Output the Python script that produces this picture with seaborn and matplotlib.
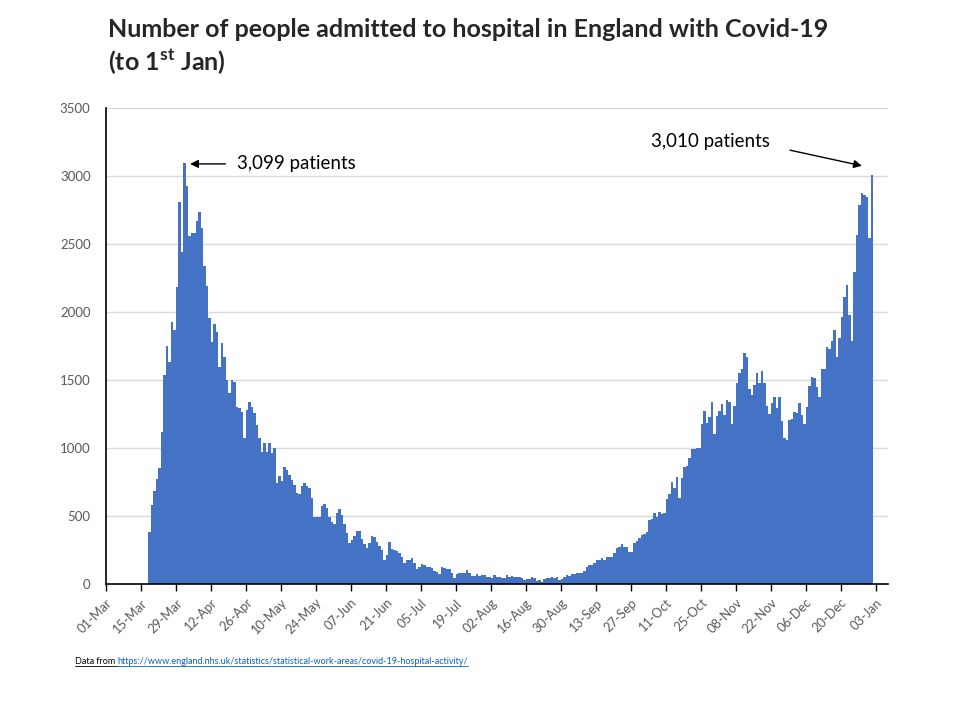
import matplotlib.pyplot as plt
from matplotlib.lines import Line2D
import pandas as pd
import seaborn as sns

# daily admissions in England, 18 Mar 2020 to 1 Jan 2021
START = "2020-03-18"
admissions = [
    385, 580, 686, 772, 850, 1120, 1537, 1752, 1635, 1930, 1870, 2186, 2811, 2444, 3099,
    2926, 2559, 2583, 2583, 2671, 2738, 2615, 2338, 2191, 1953, 1782, 1912, 1855, 1598, 1770,
    1666, 1500, 1402, 1500, 1488, 1304, 1291, 1267, 1071, 1279, 1336, 1299, 1255, 1169, 1071,
    973, 1034, 973, 1034, 961, 998, 740, 794, 757, 863, 838, 801, 765, 728, 672,
    662, 721, 745, 721, 703, 630, 495, 495, 495, 574, 588, 556, 495, 458, 441,
    520, 549, 507, 441, 373, 304, 324, 353, 392, 392, 328, 294, 262, 304, 353,
    343, 311, 279, 250, 176, 213, 311, 255, 250, 245, 230, 201, 157, 176, 176,
    189, 152, 108, 127, 147, 140, 127, 127, 115, 98, 91, 74, 127, 115, 108,
    108, 78, 42, 71, 78, 78, 78, 103, 78, 59, 59, 74, 59, 66, 66,
    49, 49, 42, 66, 54, 54, 47, 47, 66, 49, 59, 49, 54, 54, 42,
    29, 34, 34, 49, 42, 25, 29, 17, 34, 42, 42, 54, 42, 49, 29,
    34, 49, 66, 59, 74, 74, 83, 83, 83, 98, 127, 140, 140, 157, 176,
    176, 189, 176, 196, 201, 201, 230, 262, 270, 294, 274, 274, 238, 238, 304,
    319, 336, 360, 368, 385, 471, 475, 520, 490, 532, 512, 525, 623, 662, 752,
    703, 784, 630, 782, 863, 868, 924, 990, 990, 998, 998, 1177, 1275, 1181, 1230,
    1341, 1103, 1238, 1275, 1324, 1243, 1353, 1341, 1177, 1309, 1480, 1554, 1578, 1701, 1667,
    1436, 1390, 1463, 1549, 1480, 1569, 1480, 1309, 1250, 1333, 1377, 1294, 1377, 1200, 1070,
    1060, 1206, 1211, 1267, 1260, 1333, 1243, 1176, 1304, 1456, 1525, 1517, 1451, 1378, 1578,
    1578, 1740, 1726, 1789, 1868, 1672, 1806, 1966, 2113, 2199, 1978, 1789, 2297, 2566, 2787,
    2877, 2860, 2848, 2542, 3010,
]

tick_dates = pd.date_range("2020-03-01", "2021-01-03", freq="14D")
y_ticks = [0, 500, 1000, 1500, 2000, 2500, 3000, 3500]

peak_first = ("2020-04-01", 3099, "3,099 patients")
peak_second = ("2021-01-01", 3010, "3,010 patients")

TITLE = "Number of people admitted to hospital in England with Covid-19"
SUBTITLE = r"(to 1$^{\mathbf{st}}$ Jan)"
SOURCE_URL = "https://www.england.nhs.uk/statistics/statistical-work-areas/covid-19-hospital-activity/"

BLUE = "#4472C4"
GREY = "#595959"

origin = pd.Timestamp("2020-03-01")
dates = pd.date_range(START, periods=len(admissions), freq="D")
df = pd.DataFrame({"day": (dates - origin).days + 0.5, "patients": admissions})

sns.set_theme(style="white")
plt.rcParams["font.family"] = ["Lato", "DejaVu Sans"]
plt.rcParams["mathtext.fontset"] = "custom"
plt.rcParams["mathtext.bf"] = "Lato:bold"

fig = plt.figure(figsize=(9.54, 7.05), dpi=100)
ax = fig.add_axes([0.111, 0.1716, 0.82, 0.6752])

sns.barplot(data=df, x="day", y="patients", native_scale=True, width=1,
            color=BLUE, saturation=1, linewidth=0, errorbar=None, ax=ax)
for bar in ax.patches:
    bar.set_antialiased(False)

ax.set_xlim(0, 313)
ax.set_ylim(0, 3500)
ax.set_xticks([(d - origin).days for d in tick_dates])
ax.set_xticklabels(tick_dates.strftime("%d-%b"), rotation=45, ha="right",
                   rotation_mode="anchor", color=GREY, fontsize=9.3)
ax.set_yticks(y_ticks)
ax.set_yticklabels([str(v) for v in y_ticks], color=GREY, fontsize=9.5)
ax.tick_params(axis="x", direction="out", length=5, width=1, color="black", pad=4,
               bottom=True)
ax.tick_params(axis="y", length=0, pad=11)
ax.set_xlabel("")
ax.set_ylabel("")
ax.yaxis.grid(True, color="#D9D9D9", linewidth=1)
ax.set_axisbelow(True)
for side in ["top", "right"]:
    ax.spines[side].set_visible(False)
for side in ["left", "bottom"]:
    ax.spines[side].set_color("black")
    ax.spines[side].set_linewidth(1.2)

# annotations
d1 = (pd.Timestamp(peak_first[0]) - origin).days
ax.annotate(peak_first[2], xy=(d1 + 2.7, peak_first[1] - 10),
            xytext=(d1 + 21.5, peak_first[1] - 10), va="center", ha="left",
            fontsize=13.5, color="black",
            arrowprops=dict(arrowstyle="-|>", color="black", lw=1,
                            shrinkA=6, shrinkB=0, mutation_scale=12))
d2 = (pd.Timestamp(peak_second[0]) - origin).days
ax.annotate("", xy=(d2 - 3.5, peak_second[1] + 65),
            xytext=(d2 - 32.3, peak_second[1] + 180),
            arrowprops=dict(arrowstyle="-|>", color="black", lw=1,
                            shrinkA=0, shrinkB=0, mutation_scale=12))
ax.text(d2 - 88, peak_second[1] + 247, peak_second[2], va="center", ha="left",
        fontsize=13.5, color="black")

# title
fig.text(0.113, 0.975, TITLE, fontsize=18, fontweight="bold", va="top", ha="left")
fig.text(0.113, 0.933, SUBTITLE, fontsize=18, fontweight="bold", va="top", ha="left")

# source line with underlines
t1 = fig.text(0.0786, 0.058, "Data from ", fontsize=6.5, color="black", va="baseline")
fig.canvas.draw()
bb = t1.get_window_extent()
t2 = fig.text(bb.x1 / fig.bbox.width, 0.058, SOURCE_URL, fontsize=6.5,
              color="#0563C1", va="baseline")
fig.canvas.draw()
for t, c in [(t1, "black"), (t2, "#0563C1")]:
    b = t.get_window_extent()
    y = 0.058 - 2 / fig.bbox.height
    fig.add_artist(Line2D([b.x0 / fig.bbox.width, b.x1 / fig.bbox.width], [y, y],
                          color=c, lw=0.6))

fig.savefig("out.png", dpi=100)
